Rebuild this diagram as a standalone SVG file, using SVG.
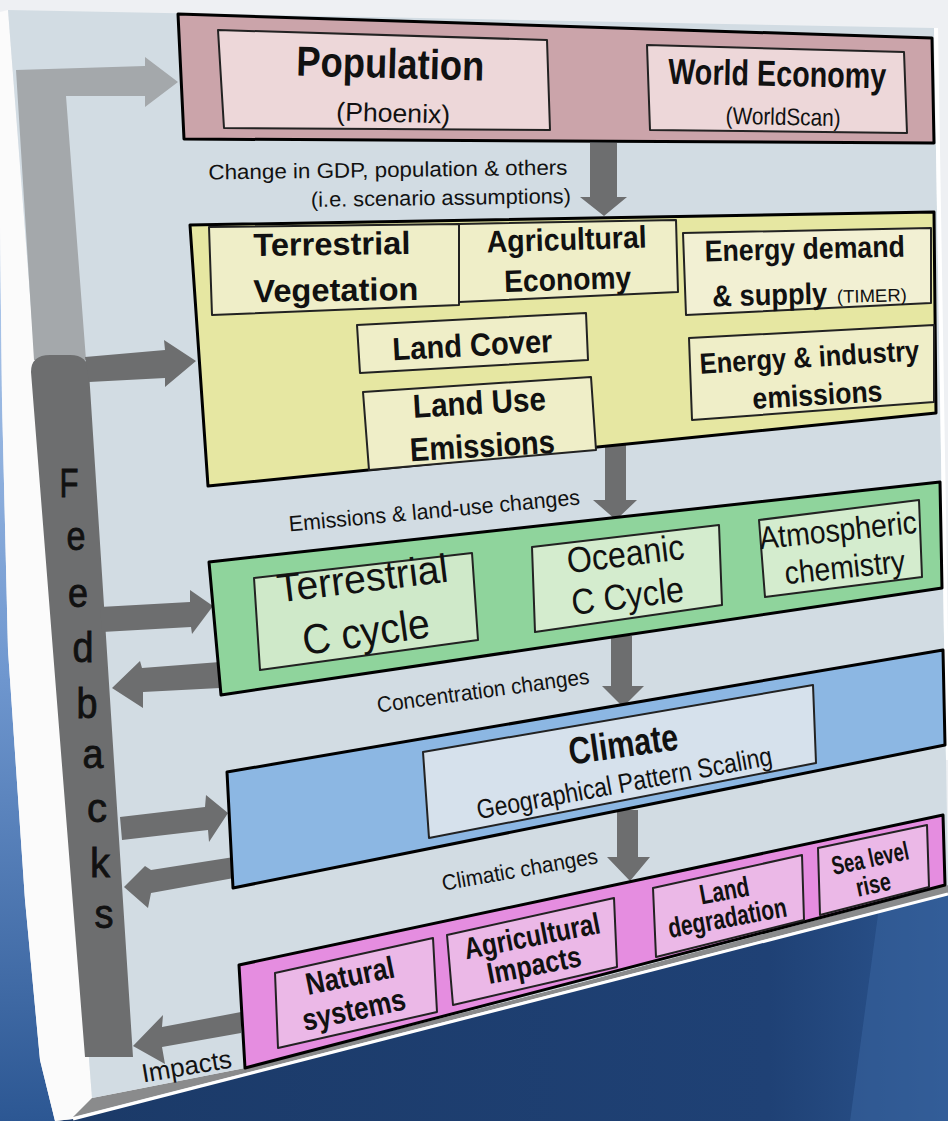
<svg xmlns="http://www.w3.org/2000/svg" width="948" height="1121" viewBox="0 0 948 1121">
<defs>
<linearGradient id="gLeft" x1="0" y1="0" x2="0" y2="1">
<stop offset="0" stop-color="#b4cdee"/><stop offset="0.5" stop-color="#6f97cf"/><stop offset="1" stop-color="#2c5793"/>
</linearGradient>
<linearGradient id="gNavy" x1="0" y1="0" x2="1" y2="0">
<stop offset="0" stop-color="#1b3a68"/><stop offset="0.8" stop-color="#1f4175"/><stop offset="1" stop-color="#2c558f"/>
</linearGradient>
<style>
.t{font-family:"Liberation Sans",Arial,sans-serif;fill:#111;text-anchor:middle}
.b{font-weight:bold}
.fb{stroke:#111;stroke-width:0.8}
.arr{fill:#6d6e6f}
.arrL{fill:#a4a8ab}
.ob{stroke:#000;stroke-width:3;stroke-linejoin:round}
.ib{stroke:#222;stroke-width:2;stroke-linejoin:round}
</style>
</defs>

<!-- background -->
<rect x="0" y="0" width="948" height="1121" fill="#eef0f3"/>
<polygon points="0,225 2,400 8,650 25,900 40,1060 55,1121 0,1121" fill="url(#gLeft)"/>
<polygon points="55,1121 73,1119 948,893 948,1121" fill="url(#gNavy)"/>
<polygon points="880,900 948,893 948,1121 850,1121" fill="#3a66a2" opacity="0.5"/>
<!-- board sides -->
<polygon points="0,225 0,12 8,10 92,1098 73,1119 55,1121 40,1060 25,900 8,650 2,400" fill="#fbfbfb"/>
<polygon points="92,1098 245,1068 560,988 948,885 948,893 73,1117" fill="#8a8b8c"/>
<line x1="73" y1="1119" x2="948" y2="894" stroke="#ffffff" stroke-width="3"/>
<!-- board face -->
<polygon points="8,10 934,28 948,880 948,885 560,988 245,1068 92,1098" fill="#d2dce3"/>
<line x1="936" y1="28" x2="948" y2="760" stroke="#ffffff" stroke-width="4"/>

<!-- connectors -->
<g id="connectors">
<path class="arrL" d="M16,70 L145,66 L145,57 L178,82 L145,107 L145,96 L66,96 L86,360 L34,360 Z"/>
<path class="arr" d="M31,372 Q31,355 50,355 L70,355 Q88,355 89,372 L133,1057 L85,1057 Z"/>
<path class="arr" d="M85,357 L165,350 L164,340 L196,361 L165,387 L165,378 L89,382 Z"/>
<path class="arr" d="M100,607 L190,602 L190,590 L213,606 L192,634 L191,627 L102,632 Z"/>
<path class="arr" d="M220,662 L142,668 L140,661 L112,688 L143,708 L143,692 L220,688 Z"/>
<path class="arr" d="M120,817 L205,807 L206,795 L228,813 L209,842 L208,830 L122,840 Z"/>
<path class="arr" d="M234,857 L151,870 L145,866 L124,887 L148,908 L151,893 L234,878 Z"/>
<path class="arr" d="M241,1012 L162,1027 L163,1015 L133,1046 L165,1064 L162,1047 L241,1033 Z"/>
<!-- downward arrows -->
<path class="arr" d="M590,143 L617,143 L617,197 L627,197 L604,216 L580,197 L590,197 Z"/>
<path class="arr" d="M605,445 L626,445 L626,500 L637,500 L616,520 L593,500 L605,500 Z"/>
<path class="arr" d="M611,636 L632,636 L632,686 L644,686 L623,707 L602,686 L611,686 Z"/>
<path class="arr" d="M617,810 L638,810 L638,857 L650,857 L630,881 L607,857 L617,857 Z"/>
<text class="t" x="388" y="177" font-size="21" textLength="359" lengthAdjust="spacingAndGlyphs" transform="rotate(-0.8 388 177)">Change in GDP, population &amp; others</text>
<text class="t" x="441" y="205" font-size="21" textLength="260" lengthAdjust="spacingAndGlyphs" transform="rotate(-0.8 441 205)">(i.e. scenario assumptions)</text>
<text class="t" x="435" y="518" font-size="22" textLength="292" lengthAdjust="spacingAndGlyphs" transform="rotate(-5.3 435 518)">Emissions &amp; land-use changes</text>
<text class="t" x="484" y="698" font-size="22" textLength="214" lengthAdjust="spacingAndGlyphs" transform="rotate(-7.8 484 698)">Concentration changes</text>
<text class="t" x="521" y="877" font-size="22" textLength="158" lengthAdjust="spacingAndGlyphs" transform="rotate(-10 521 877)">Climatic changes</text>
<text class="t" x="188" y="1075" font-size="26" textLength="91" lengthAdjust="spacingAndGlyphs" transform="rotate(-9.6 188 1075)">Impacts</text>
<g id="feedbacks-label">
<text class="t fb" x="69" y="497" font-size="40" textLength="19" lengthAdjust="spacingAndGlyphs">F</text>
<text class="t fb" x="76" y="550" font-size="40" textLength="19" lengthAdjust="spacingAndGlyphs">e</text>
<text class="t fb" x="78" y="607" font-size="40" textLength="20" lengthAdjust="spacingAndGlyphs">e</text>
<text class="t fb" x="83" y="662" font-size="42" textLength="21" lengthAdjust="spacingAndGlyphs">d</text>
<text class="t fb" x="87" y="718" font-size="42" textLength="21" lengthAdjust="spacingAndGlyphs">b</text>
<text class="t fb" x="93" y="768" font-size="40" textLength="21" lengthAdjust="spacingAndGlyphs">a</text>
<text class="t fb" x="97" y="822" font-size="40" textLength="20" lengthAdjust="spacingAndGlyphs">c</text>
<text class="t fb" x="100" y="877" font-size="40" textLength="20" lengthAdjust="spacingAndGlyphs">k</text>
<text class="t fb" x="104" y="928" font-size="40" textLength="19" lengthAdjust="spacingAndGlyphs">s</text>
</g>
</g>

<!-- top row -->
<g id="drivers">
<polygon class="ob" points="178,14 932,38 934,143 184,139" fill="#cba4aa"/>
<g id="population">
<polygon class="ib" points="218,30 547,40 550,130 224,128" fill="#edd7d9"/>
<text class="t b" x="390" y="78" font-size="42" textLength="188" lengthAdjust="spacingAndGlyphs" transform="rotate(1.5 390 78)">Population</text>
<text class="t" x="393" y="122" font-size="26" textLength="114" lengthAdjust="spacingAndGlyphs" transform="rotate(1.5 393 122)">(Phoenix)</text>
</g>
<g id="world-economy">
<polygon class="ib" points="647,45 904,52 907,133 650,130" fill="#edd7d9"/>
<text class="t b" x="777" y="86" font-size="36" textLength="218" lengthAdjust="spacingAndGlyphs" transform="rotate(1.2 777 86)">World Economy</text>
<text class="t" x="783" y="125" font-size="24" textLength="115" lengthAdjust="spacingAndGlyphs" transform="rotate(1.2 783 125)">(WorldScan)</text>
</g>
</g>

<!-- yellow row -->
<g id="human-system">
<polygon class="ob" points="190,225 934,212 936,413 208,486" fill="#e6e7a2"/>
<g id="terrestrial-vegetation">
<polygon class="ib" points="209,227 459,224 459,305 212,315" fill="#efeec8"/>
<text class="t b" x="332" y="255" font-size="32" textLength="157" lengthAdjust="spacingAndGlyphs" transform="rotate(-0.8 332 255)">Terrestrial</text>
<text class="t b" x="336" y="301" font-size="32" textLength="165" lengthAdjust="spacingAndGlyphs" transform="rotate(-0.8 336 301)">Vegetation</text>
</g>
<g id="agricultural-economy">
<polygon class="ib" points="459,224 676,220 678,292 459,302" fill="#efeec8"/>
<text class="t b" x="567" y="250" font-size="31" textLength="160" lengthAdjust="spacingAndGlyphs" transform="rotate(-1.8 567 250)">Agricultural</text>
<text class="t b" x="568" y="290" font-size="31" textLength="127" lengthAdjust="spacingAndGlyphs" transform="rotate(-1.8 568 290)">Economy</text>
</g>
<g id="energy-demand">
<polygon class="ib" points="683,233 931,228 931,303 686,315" fill="#f2f0d3"/>
<text class="t b" x="805" y="259" font-size="30" textLength="200" lengthAdjust="spacingAndGlyphs" transform="rotate(-1.4 805 259)">Energy demand</text>
<text class="t b" x="770" y="305" font-size="30" textLength="115" lengthAdjust="spacingAndGlyphs" transform="rotate(-1.4 770 305)">&amp; supply</text>
<text class="t" x="872" y="302" font-size="18" textLength="70" lengthAdjust="spacingAndGlyphs" transform="rotate(-1.4 872 302)">(TIMER)</text>
</g>
<g id="land-cover">
<polygon class="ib" points="357,325 586,313 588,360 360,373" fill="#efeec8"/>
<text class="t b" x="473" y="356" font-size="32" textLength="160" lengthAdjust="spacingAndGlyphs" transform="rotate(-3 473 356)">Land Cover</text>
</g>
<g id="land-use-emissions">
<polygon class="ib" points="363,392 591,377 596,450 369,470" fill="#efeec8"/>
<text class="t b" x="480" y="414" font-size="33" textLength="133" lengthAdjust="spacingAndGlyphs" transform="rotate(-3.3 480 414)">Land Use</text>
<text class="t b" x="483" y="457" font-size="33" textLength="145" lengthAdjust="spacingAndGlyphs" transform="rotate(-3.3 483 457)">Emissions</text>
</g>
<g id="energy-industry-emissions">
<polygon class="ib" points="689,338 934,325 934,402 692,420" fill="#efeec8"/>
<text class="t b" x="810" y="367" font-size="29" textLength="220" lengthAdjust="spacingAndGlyphs" transform="rotate(-3.5 810 367)">Energy &amp; industry</text>
<text class="t b" x="818" y="405" font-size="30" textLength="130" lengthAdjust="spacingAndGlyphs" transform="rotate(-3.5 818 405)">emissions</text>
</g>
</g>

<!-- green row -->
<g id="carbon-cycle">
<polygon class="ob" points="209,562 940,482 942,588 221,695" fill="#8fd49c"/>
<g id="terrestrial-c-cycle">
<polygon class="ib" points="254,578 472,553 478,640 260,670" fill="#cfe9c9"/>
<text class="t" x="364" y="592" font-size="40" textLength="172" lengthAdjust="spacingAndGlyphs" transform="rotate(-7 364 592)">Terrestrial</text>
<text class="t" x="368" y="646" font-size="42" textLength="128" lengthAdjust="spacingAndGlyphs" transform="rotate(-8 368 646)">C cycle</text>
</g>
<g id="oceanic-c-cycle">
<polygon class="ib" points="532,547 719,525 722,605 535,632" fill="#d4ecce"/>
<text class="t" x="627" y="566" font-size="36" textLength="118" lengthAdjust="spacingAndGlyphs" transform="rotate(-7 627 566)">Oceanic</text>
<text class="t" x="629" y="608" font-size="36" textLength="113" lengthAdjust="spacingAndGlyphs" transform="rotate(-7 629 608)">C Cycle</text>
</g>
<g id="atmospheric-chemistry">
<polygon class="ib" points="759,520 919,500 922,577 765,597" fill="#d4ecce"/>
<text class="t" x="839" y="541" font-size="32" textLength="158" lengthAdjust="spacingAndGlyphs" transform="rotate(-6 839 541)">Atmospheric</text>
<text class="t" x="846" y="578" font-size="32" textLength="121" lengthAdjust="spacingAndGlyphs" transform="rotate(-6 846 578)">chemistry</text>
</g>
</g>

<!-- blue row -->
<g id="climate-row">
<polygon class="ob" points="227,772 943,650 945,745 233,888" fill="#8cb7e3"/>
<g id="climate">
<polygon class="ib" points="423,752 813,685 816,763 429,838" fill="#d6e1ec"/>
<text class="t b" x="625" y="757" font-size="38" textLength="110" lengthAdjust="spacingAndGlyphs" transform="rotate(-8 625 757)">Climate</text>
<text class="t" x="626" y="792" font-size="27" textLength="300" lengthAdjust="spacingAndGlyphs" transform="rotate(-10.5 626 792)">Geographical Pattern Scaling</text>
</g>
</g>

<!-- impacts row -->
<g id="impacts-row">
<polygon class="ob" points="239,965 943,815 945,885 245,1068" fill="#e58de0"/>
<g id="natural-systems">
<polygon class="ib" points="275,973 433,938 437,1012 278,1048" fill="#ebb8e7"/>
<text class="t b" x="352" y="986" font-size="31" textLength="90" lengthAdjust="spacingAndGlyphs" transform="rotate(-11.5 352 986)">Natural</text>
<text class="t b" x="356" y="1020" font-size="31" textLength="105" lengthAdjust="spacingAndGlyphs" transform="rotate(-12 356 1020)">systems</text>
</g>
<g id="agricultural-impacts">
<polygon class="ib" points="447,935 614,898 617,967 453,1005" fill="#ebb8e7"/>
<text class="t b" x="534" y="946" font-size="30" textLength="138" lengthAdjust="spacingAndGlyphs" transform="rotate(-11 534 946)">Agricultural</text>
<text class="t b" x="536" y="975" font-size="30" textLength="95" lengthAdjust="spacingAndGlyphs" transform="rotate(-11 536 975)">Impacts</text>
</g>
<g id="land-degradation">
<polygon class="ib" points="653,888 802,855 804,920 656,957" fill="#ebb8e7"/>
<text class="t b" x="726" y="900" font-size="28" textLength="50" lengthAdjust="spacingAndGlyphs" transform="rotate(-10.5 726 900)">Land</text>
<text class="t b" x="729" y="927" font-size="28" textLength="120" lengthAdjust="spacingAndGlyphs" transform="rotate(-10.5 729 927)">degradation</text>
</g>
<g id="sea-level-rise">
<polygon class="ib" points="818,848 927,825 929,887 820,915" fill="#ebb8e7"/>
<text class="t b" x="872" y="867" font-size="26" textLength="78" lengthAdjust="spacingAndGlyphs" transform="rotate(-12 872 867)">Sea level</text>
<text class="t b" x="875" y="893" font-size="26" textLength="35" lengthAdjust="spacingAndGlyphs" transform="rotate(-12 875 893)">rise</text>
</g>
</g>
</svg>
